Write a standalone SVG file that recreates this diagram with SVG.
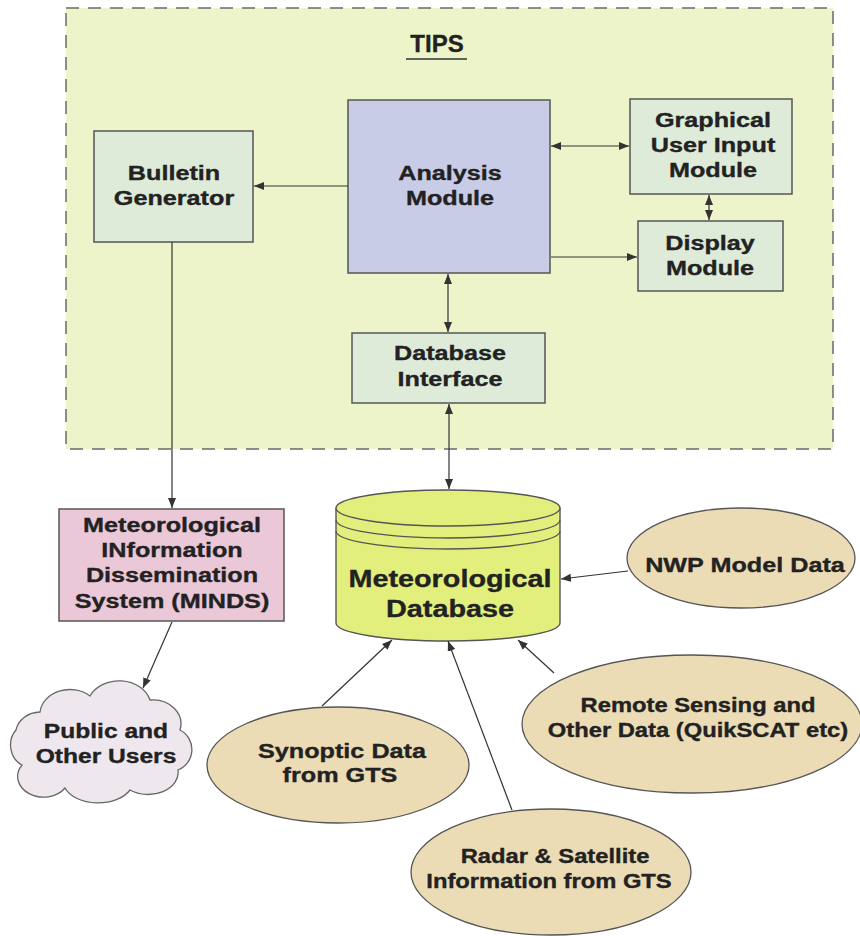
<svg xmlns="http://www.w3.org/2000/svg" width="860" height="936" viewBox="0 0 860 936">
<style>
.t{font-family:"Liberation Sans",Arial,sans-serif;font-weight:bold;font-size:21px;fill:#222;stroke:#222;stroke-width:0.35;text-anchor:middle}
.big{font-size:24px}
.sm{font-size:19.8px}
.box{fill:#dfebd9;stroke:#555;stroke-width:1.5}
.ell{fill:#ecdcb6;stroke:#555;stroke-width:1.3}
.c{stroke:#333;stroke-width:1.2;fill:none}
</style>
<defs>
<marker id="ah" markerUnits="userSpaceOnUse" markerWidth="12" markerHeight="10" refX="10" refY="4" orient="auto-start-reverse">
<path d="M0,0 L10,4 L0,8 Z" fill="#333"/>
</marker>
</defs>
<rect width="860" height="936" fill="#ffffff"/>
<g id="tips">
<rect x="66" y="8" width="767" height="441" fill="#eef4c9" stroke="#6a6a6a" stroke-width="1.5" stroke-dasharray="13 9"/>
<text x="437" y="52" class="t" style="font-size:24px">TIPS</text>
<line x1="406" y1="59" x2="467" y2="59" stroke="#333" stroke-width="1.5"/>
</g>
<g id="bulletin">
<rect x="94" y="131" width="159" height="111" class="box"/>
<text class="t" transform="matrix(1.2 0 0 1 174 180)">Bulletin</text>
<text class="t" transform="matrix(1.2 0 0 1 174 205)">Generator</text>
</g>
<g id="analysis">
<rect x="348" y="100" width="202" height="173" fill="#c9cce6" stroke="#555" stroke-width="1.5"/>
<text class="t" transform="matrix(1.2 0 0 1 450 180)">Analysis</text>
<text class="t" transform="matrix(1.2 0 0 1 450 205)">Module</text>
</g>
<g id="gui">
<rect x="630" y="99" width="162" height="95" class="box"/>
<text class="t" transform="matrix(1.2 0 0 1 713 127)">Graphical</text>
<text class="t" transform="matrix(1.2 0 0 1 713 152)">User Input</text>
<text class="t" transform="matrix(1.2 0 0 1 713 177)">Module</text>
</g>
<g id="display">
<rect x="638" y="221" width="145" height="70" class="box"/>
<text class="t" transform="matrix(1.2 0 0 1 710 250)">Display</text>
<text class="t" transform="matrix(1.2 0 0 1 710 275)">Module</text>
</g>
<g id="dbinterface">
<rect x="352" y="333" width="193" height="70" class="box"/>
<text class="t" transform="matrix(1.2 0 0 1 450 360)">Database</text>
<text class="t" transform="matrix(1.2 0 0 1 450 386)">Interface</text>
</g>
<g id="minds">
<rect x="59" y="509" width="225" height="112" fill="#ebc8d7" stroke="#555" stroke-width="1.5"/>
<text class="t" transform="matrix(1.2 0 0 1 172 532)">Meteorological</text>
<text class="t" transform="matrix(1.2 0 0 1 172 557)">INformation</text>
<text class="t" transform="matrix(1.2 0 0 1 172 582)">Dissemination</text>
<text class="t" transform="matrix(1.2 0 0 1 172 608)">System (MINDS)</text>
</g>
<g id="public">
<path d="M40,712 A30,25 0 0 1 90,696 A32,26 0 0 1 150,700 A28,24 0 0 1 180,730 A22,22 0 0 1 178,770 A30,22 0 0 1 130,790 A35,22 0 0 1 65,788 A25,20 0 0 1 22,765 A20,22 0 0 1 16,730 A25,22 0 0 1 40,712 Z" fill="#eee8ee" stroke="#666" stroke-width="1.3"/>
<text class="t" style="font-size:20.5px" transform="matrix(1.2 0 0 1 106 738)">Public and</text>
<text class="t" style="font-size:20.5px" transform="matrix(1.2 0 0 1 106 763)">Other Users</text>
</g>
<g id="metdb">
<path d="M336,508 L336,623 A112,18 0 0 0 560,623 L560,508" fill="#e3ef7c" stroke="#555" stroke-width="1.4"/>
<ellipse cx="448" cy="508" rx="112" ry="18" fill="#e3ef7c" stroke="#555" stroke-width="1.4"/>
<path d="M336,520 A112,18 0 0 0 560,520" fill="none" stroke="#555" stroke-width="1.3"/>
<path d="M336,531 A112,18 0 0 0 560,531" fill="none" stroke="#555" stroke-width="1.3"/>
<text class="t big" transform="matrix(1.2 0 0 1 450 587)">Meteorological</text>
<text class="t big" transform="matrix(1.2 0 0 1 450 617)">Database</text>
</g>
<g id="nwp">
<ellipse cx="741" cy="558" rx="114" ry="50" class="ell"/>
<text class="t" transform="matrix(1.2 0 0 1 745 572)">NWP Model Data</text>
</g>
<g id="remote">
<ellipse cx="692" cy="724" rx="170" ry="69" class="ell"/>
<text class="t sm" transform="matrix(1.2 0 0 1 698 712)">Remote Sensing and</text>
<text class="t sm" transform="matrix(1.2 0 0 1 698 737)">Other Data (QuikSCAT etc)</text>
</g>
<g id="synoptic">
<ellipse cx="338" cy="765" rx="131" ry="58" class="ell"/>
<text class="t" transform="matrix(1.2 0 0 1 342 758)">Synoptic Data</text>
<text class="t" transform="matrix(1.2 0 0 1 340 782)">from GTS</text>
</g>
<g id="radar">
<ellipse cx="551" cy="872" rx="140" ry="63" class="ell"/>
<text class="t sm" transform="matrix(1.2 0 0 1 555 863)">Radar &amp; Satellite</text>
<text class="t sm" transform="matrix(1.2 0 0 1 549 888)">Information from GTS</text>
</g>
<g id="connectors">
<line x1="348" y1="186" x2="254" y2="186" class="c" marker-end="url(#ah)"/>
<line x1="551" y1="146" x2="629" y2="146" class="c" marker-start="url(#ah)" marker-end="url(#ah)"/>
<line x1="709" y1="195" x2="709" y2="220" class="c" marker-start="url(#ah)" marker-end="url(#ah)"/>
<line x1="551" y1="257" x2="637" y2="257" class="c" marker-end="url(#ah)"/>
<line x1="448" y1="274" x2="448" y2="332" class="c" marker-start="url(#ah)" marker-end="url(#ah)"/>
<line x1="449" y1="404" x2="449" y2="489" class="c" marker-start="url(#ah)" marker-end="url(#ah)"/>
<line x1="172" y1="242" x2="172" y2="508" class="c" marker-end="url(#ah)"/>
<line x1="172" y1="622" x2="143" y2="688" class="c" marker-end="url(#ah)"/>
<line x1="628" y1="571" x2="561" y2="579" class="c" marker-end="url(#ah)"/>
<line x1="554" y1="673" x2="518" y2="640" class="c" marker-end="url(#ah)"/>
<line x1="322" y1="706" x2="392" y2="640" class="c" marker-end="url(#ah)"/>
<line x1="512" y1="810" x2="448" y2="641" class="c" marker-end="url(#ah)"/>
</g>
</svg>
